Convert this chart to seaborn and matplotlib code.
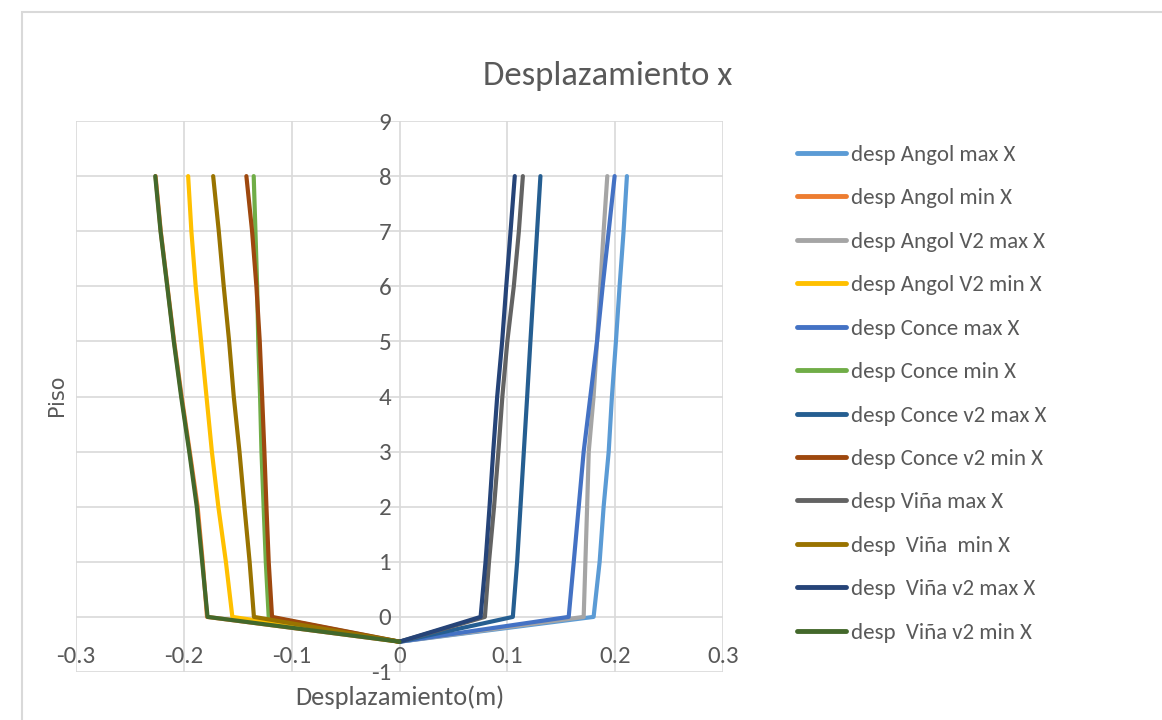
import matplotlib
matplotlib.use("Agg")
import matplotlib.pyplot as plt
from matplotlib.patches import Rectangle
import numpy as np
import pandas as pd
import seaborn as sns

# ---- data ----
piso = [-0.45, 0, 1, 2, 3, 4, 5, 6, 7, 8]

series_names = [
    "desp Angol max X", "desp Angol min X", "desp Angol V2 max X", "desp Angol V2 min X",
    "desp Conce max X", "desp Conce min X", "desp Conce v2 max X", "desp Conce v2 min X",
    "desp Viña max X", "desp  Viña  min X", "desp  Viña v2 max X", "desp  Viña v2 min X",
]

angol_max = [0, 0.180, 0.1856, 0.1893, 0.194, 0.197, 0.2007, 0.2041, 0.2078, 0.2109]
angol_min = [0, -0.1785, -0.1825, -0.1872, -0.1945, -0.2020, -0.2090, -0.2152, -0.2214, -0.2262]
angol_v2_max = [0, 0.1708, 0.1724, 0.174, 0.1755, 0.180, 0.1832, 0.1862, 0.1893, 0.1927]
angol_v2_min = [0, -0.155, -0.161, -0.168, -0.174, -0.179, -0.184, -0.189, -0.193, -0.196]
conce_max = [0, 0.1569, 0.1616, 0.1662, 0.1708, 0.177, 0.1832, 0.1884, 0.194, 0.1995]
conce_min = [0, -0.1213, -0.124, -0.126, -0.128, -0.1293, -0.131, -0.132, -0.1336, -0.1352]
conce_v2_max = [0, 0.1051, 0.1091, 0.1122, 0.1153, 0.1184, 0.1214, 0.1245, 0.1276, 0.1307]
conce_v2_min = [0, -0.1182, -0.1213, -0.1234, -0.1253, -0.1274, -0.1296, -0.1327, -0.1367, -0.142]
vina_max = [0, 0.0792, 0.083, 0.0877, 0.0917, 0.0954, 0.100, 0.106, 0.1107, 0.1144]
vina_min = [0, -0.135, -0.139, -0.1438, -0.1484, -0.1537, -0.158, -0.163, -0.1676, -0.1728]
vina_v2_max = [0, 0.0752, 0.0798, 0.0835, 0.0869, 0.0906, 0.0952, 0.099, 0.103, 0.1069]
vina_v2_min = [0, -0.178, -0.183, -0.188, -0.195, -0.2025, -0.2093, -0.2154, -0.2216, -0.2265]

all_series = [angol_max, angol_min, angol_v2_max, angol_v2_min, conce_max, conce_min,
              conce_v2_max, conce_v2_min, vina_max, vina_min, vina_v2_max, vina_v2_min]

colors = ["#5B9BD5", "#ED7D31", "#A5A5A5", "#FFC000", "#4472C4", "#70AD47",
          "#255E91", "#9E480E", "#636363", "#997300", "#264478", "#43682B"]

x_ticklabels = ["-0.3", "-0.2", "-0.1", "0", "0.1", "0.2", "0.3"]

rows = []
for name, vals in zip(series_names, all_series):
    for d, p in zip(vals, piso):
        rows.append({"serie": name, "desp": d, "piso": p})
df = pd.DataFrame(rows)

# ---- plot ----
sns.set_style("white")
plt.rcParams["font.family"] = ["Carlito", "Roboto Condensed", "DejaVu Sans"]
plt.rcParams["axes.unicode_minus"] = False
txt = "#595959"

fig = plt.figure(figsize=(11.62, 7.2), dpi=100)
ax = fig.add_axes([76 / 1162, 1 - 672 / 720, 647 / 1162, 551 / 720])

sns.lineplot(data=df, x="desp", y="piso", hue="serie", hue_order=series_names,
             palette=dict(zip(series_names, colors)), sort=False, estimator=None,
             linewidth=3, ax=ax, legend=True)

ax.set_xlim(-0.3, 0.3)
ax.set_ylim(-1, 9)
ax.set_xticks(np.round(np.arange(-0.3, 0.31, 0.1), 1))
ax.set_xticklabels(x_ticklabels)
ax.set_yticks(range(-1, 10))
ax.grid(True, color="#D9D9D9", linewidth=1.2)
ax.set_axisbelow(True)

for s in ["top", "right"]:
    ax.spines[s].set_visible(False)
ax.spines["left"].set_position(("data", 0))
ax.spines["bottom"].set_position(("data", -0.45))
ax.spines["left"].set_color("none")
ax.spines["bottom"].set_color("none")
ax.tick_params(axis="both", length=0, labelsize=18, labelcolor=txt)
ax.tick_params(axis="x", pad=3)
ax.tick_params(axis="y", pad=6)

ax.set_xlabel("Desplazamiento(m)", fontsize=19, color=txt)
ax.xaxis.set_label_coords(0.5, -0.045)
ax.xaxis.label.set_va("center")
ax.set_ylabel("Piso", fontsize=15, color=txt, family=["DejaVu Sans"])
ax.yaxis.set_label_coords(-0.029, 0.503)
ax.yaxis.label.set_va("center")

fig.text(608 / 1162, 1 - 76 / 720, "Desplazamiento x", ha="center", va="center",
         fontsize=25, color=txt)

handles, labels = ax.get_legend_handles_labels()
leg = ax.legend(handles, labels, loc="upper left", bbox_to_anchor=(797 / 1162, 1 - 145 / 720),
                bbox_transform=fig.transFigure, frameon=False, fontsize=16.5,
                handlelength=2.15, handletextpad=0.2, labelspacing=1.02, borderaxespad=0,
                borderpad=0)
for t in leg.get_texts():
    t.set_color(txt)
for l in leg.get_lines():
    l.set_linewidth(3.5)
    l.set_solid_capstyle("round")

fig.patches.append(Rectangle((22 / 1162, -0.1), 1.2, 1.1 - 12 / 720, transform=fig.transFigure,
                             fill=False, edgecolor="#D9D9D9", linewidth=1.5))

fig.savefig("out.png", dpi=100, facecolor="white")
